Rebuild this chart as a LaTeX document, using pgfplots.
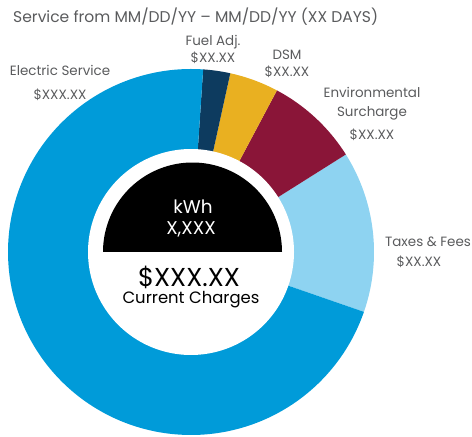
\documentclass[border=0pt]{standalone}
\usepackage{fontspec}
\setmainfont{Poppins}
\usepackage{pgfplots}
\usepackage{pgfplotstable}
\pgfplotsset{compat=1.18}
\definecolor{elec}{HTML}{009BD9}
\definecolor{fuel}{HTML}{0D3B5F}
\definecolor{dsm}{HTML}{E9B021}
\definecolor{env}{HTML}{8A1538}
\definecolor{tax}{HTML}{8ED3F1}
\definecolor{lab}{HTML}{5A5B5D}
% slice boundaries in degrees (counter-clockwise from 3 o'clock)
\pgfplotstableread{
name start end
Taxes -19.1 32.2
Env 32.2 62.0
DSM 62.0 77.6
Fuel 77.6 86.2
Electric 86.2 340.9
}\slices
\newcommand\getslice[2]{%
  \pgfplotstablegetelem{#1}{start}\of\slices\expandafter\edef\csname s#2\endcsname{\pgfplotsretval}%
  \pgfplotstablegetelem{#1}{end}\of\slices\expandafter\edef\csname e#2\endcsname{\pgfplotsretval}}
\getslice{0}{Tax}
\getslice{1}{Env}
\getslice{2}{Dsm}
\getslice{3}{Fuel}
\getslice{4}{Elec}
\def\cx{191}
\def\cy{185}
\def\R{183}
\def\r{103}
\def\rb{89.5}
\begin{document}
\begin{tikzpicture}
\begin{axis}[x=1bp,y=1bp,xmin=0,xmax=472,ymin=0,ymax=437,
  hide axis, clip=false, axis line style={draw=none}]
\addplot[fill=tax,draw=none,domain=\sTax:\eTax,samples=80] ({\cx+\R*cos(x)},{\cy+\R*sin(x)}) -- (\cx,\cy) -- cycle;
\addplot[fill=env,draw=none,domain=\sEnv:\eEnv,samples=60] ({\cx+\R*cos(x)},{\cy+\R*sin(x)}) -- (\cx,\cy) -- cycle;
\addplot[fill=dsm,draw=none,domain=\sDsm:\eDsm,samples=40] ({\cx+\R*cos(x)},{\cy+\R*sin(x)}) -- (\cx,\cy) -- cycle;
\addplot[fill=fuel,draw=none,domain=\sFuel:\eFuel,samples=30] ({\cx+\R*cos(x)},{\cy+\R*sin(x)}) -- (\cx,\cy) -- cycle;
\addplot[fill=elec,draw=none,domain=\sElec:\eElec,samples=200] ({\cx+\R*cos(x)},{\cy+\R*sin(x)}) -- (\cx,\cy) -- cycle;
\addplot[fill=white,draw=none,domain=0:360,samples=200] ({\cx+\r*cos(x)},{\cy+\r*sin(x)}) -- cycle;
\addplot[fill=black,draw=none,domain=0:180,samples=120] ({\cx+1.5+\rb*cos(x)},{\cy+\rb*sin(x)}) -- cycle;
% labels
\node[anchor=base west,inner sep=0pt,text=lab,font=\fontsize{15.6}{17}\selectfont] at (13,414) {Service from MM/DD/YY – MM/DD/YY (XX DAYS)};
\begin{scope}[every node/.style={inner sep=0pt,text=lab,font=\fontsize{13.5}{15}\selectfont}]
\node at (60,367) {Electric Service};
\node at (60,342) {\$XXX.XX};
\node at (213,395) {Fuel Adj.};
\node at (213,379) {\$XX.XX};
\node at (287,382) {DSM};
\node at (287,365) {\$XX.XX};
\node at (372,345) {Environmental};
\node at (372,324) {Surcharge};
\node at (372,302) {\$XX.XX};
\node at (428,195) {Taxes \& Fees};
\node at (419,175) {\$XX.XX};
\end{scope}
\node[text=white,font=\fontsize{18.5}{20}\selectfont] at (193,230) {kWh};
\node[text=white,font=\fontsize{18.5}{20}\selectfont] at (191,208) {X,XXX};
\node[text=black,font=\fontsize{26}{30}\selectfont] at (189,160) {\$XXX.XX};
\node[text=black,font=\fontsize{16.5}{19}\selectfont] at (191,137) {Current Charges};
\end{axis}
\pgfresetboundingbox
\path[use as bounding box] (current axis.south west) rectangle (current axis.north east);
\end{tikzpicture}
\end{document}
